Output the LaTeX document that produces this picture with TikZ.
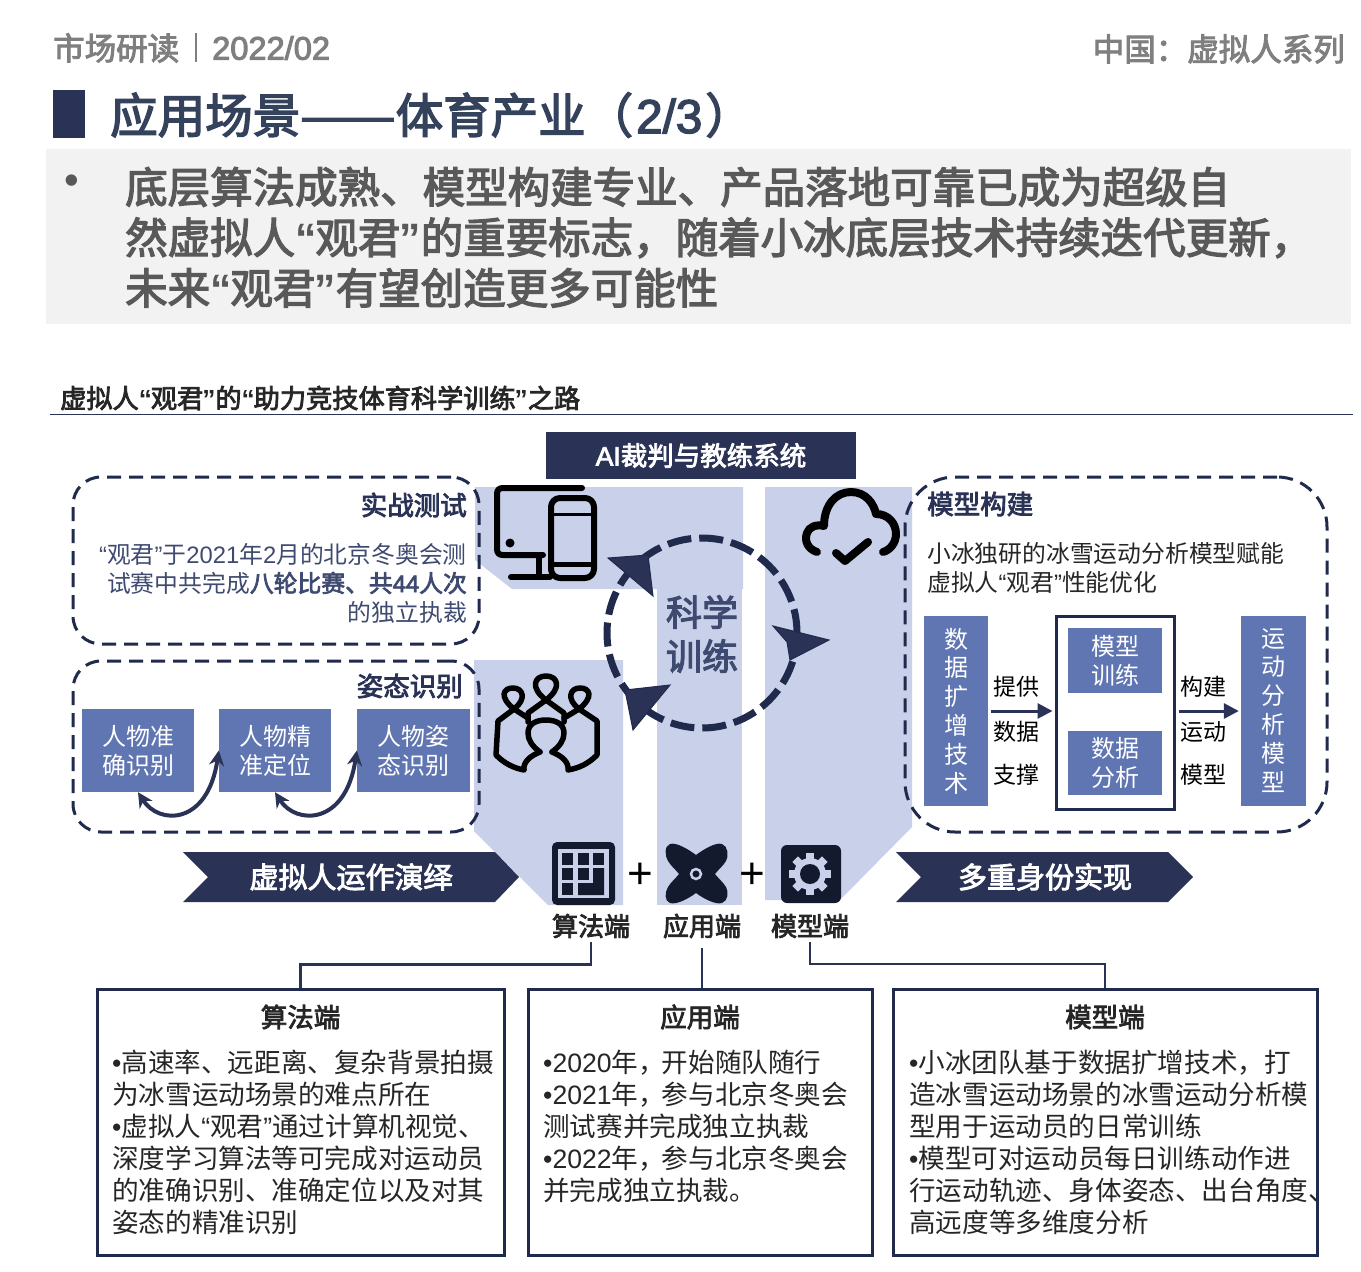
\documentclass[tikz,border=0pt]{standalone}
\usepackage{fontspec}
\setmainfont{Noto Sans CJK SC}
\newfontfamily\cjkb[FakeBold=3]{Noto Sans CJK SC}
\newfontfamily\latf{Liberation Sans}
\newfontfamily\latm[FakeBold=3]{Liberation Sans}
\usetikzlibrary{arrows.meta}
\newcommand{\fs}[2]{\fontsize{#1}{#2}\selectfont}
\newcommand{\q}[1]{{\latf “}#1{\latf ”}}
\newcommand{\qb}[1]{{\latf\bfseries “}\kern-1pt #1\kern-1pt{\latf\bfseries ”}}
\newcommand{\bu}{{\latf •}}
\definecolor{navy}{HTML}{2A3356}
\definecolor{ink}{HTML}{1F2A4D}
\definecolor{pale}{HTML}{C8D1E9}
\definecolor{midblue}{HTML}{6076B2}
\definecolor{coal}{HTML}{141A2E}
\definecolor{slate}{HTML}{3F4A70}
\definecolor{ash}{HTML}{7F7F7F}
\definecolor{titleblue}{HTML}{34425C}
\tikzset{
  dashbox/.style={draw=ink,line width=3pt,rounded corners=#1,dash pattern=on 14pt off 8pt},
  panel/.style={draw=ink,line width=3pt,minimum width=#1,minimum height=266,inner sep=0pt},
  bluebox/.style={fill=midblue,text=white,inner sep=0pt,align=center,font=\fs{24}{29}},
  side/.style={inner sep=0pt,font=\fs{23}{28}},
  head/.style={inner sep=0pt,text=navy,font=\fs{26.5}{30}\cjkb},
  body/.style={inner sep=0pt,align=left,anchor=north west,text=black!85,font=\fs{26.6}{32}},
  note/.style={inner sep=0pt,text=slate,font=\fs{23.8}{29}},
  leadline/.style={anchor=base west,inner sep=0pt,text=black!65,font=\fs{42.5}{50}\cjkb},
  chevron/.style={fill=navy},
  twohead/.style={draw=navy,line width=4pt,{Stealth[length=15pt,width=15pt]}-{Stealth[length=15pt,width=15pt]}},
  flow/.style={draw=navy,line width=3pt,-{Triangle[length=15pt,width=15pt]},shorten <=3pt,shorten >=2pt},
  elbow/.style={draw=navy,line width=2.5pt},
  ico/.style={line width=6pt,black,line cap=round,line join=round},
  tip/.style={fill=navy,draw=ink,line width=1pt}
}

\begin{document}
\begin{tikzpicture}[x=1pt,y=-1pt]
    \useasboundingbox (0,0) rectangle (1361,1272);

    % header
    \node [anchor=west,inner sep=0pt,text=ash,font=\fs{31.5}{36}\cjkb] (topleft) at (53,48) {市场研读};
    \node [anchor=west,inner sep=0pt,text=ash,font=\fs{32.6}{36}\latm] (topdate) at (212,48) {2022/02};
    \draw [ash,line width=2.5pt] (196,33) -- (196,62);
    \node [anchor=east,inner sep=0pt,text=ash,font=\fs{31.5}{36}\cjkb] (topright) at (1345,49) {中国：虚拟人系列};
    \fill [navy] (53,90) rectangle (85,138);
    \node [anchor=west,inner sep=0pt,text=titleblue,font=\fs{47.5}{52}\cjkb] (title) at (110,115) {应用场景\scalebox{1.2}[1]{——}体育产业（\kern3pt{\latm 2/3}\kern3pt）};

    \fill [black!5] (46,149) rectangle (1351,324);
    \node [inner sep=0pt,text=black!65,font=\fs{42}{46}\latf] (dot) at (72,185) {•};
    \node [leadline] (lead1) at (125,203) {底层算法成熟、模型构建专业、产品落地可靠已成为超级自};
    \node [leadline] (lead2) at (125,253.5) {然虚拟人\qb{观君}的重要标志，随着小冰底层技术持续迭代更新，};
    \node [leadline] (lead3) at (125,304) {未来\qb{观君}有望创造更多可能性};

    \node [anchor=west,inner sep=0pt,text=black!85,font=\fs{26.2}{30}\cjkb] (subtitle) at (60,398) {虚拟人\qb{观君}的\qb{助力竞技体育科学训练}之路};
    \draw [navy,line width=1pt] (50,414) -- (1353,414);

    % pale columns
    \fill [pale] (475,487) -- (743,487) -- (743,589) -- (512,589) -- (475,560) -- cycle;
    \fill [pale] (657,589) rectangle (742,905);
    \fill [pale] (474,660) -- (623,660) -- (623,905) -- (548,905) -- (474,831) -- cycle;
    \fill [pale] (765,487) -- (912,487) -- (912,827) -- (840,900) -- (765,900) -- cycle;

    \node [fill=navy,text=white,minimum width=310,minimum height=47,inner sep=0pt,font=\fs{26.5}{30}\cjkb] (aibox) at (701,455.5) {\raisebox{-1.5pt}{{\latm AI}裁判与教练系统}};

    % dashed boxes
    \node [dashbox=28pt,minimum width=406,minimum height=167,inner sep=0pt] (fight) at (276,560.5) {};
    \node [dashbox=28pt,minimum width=406,minimum height=171,inner sep=0pt] (pose) at (276,746.5) {};
    \node [dashbox=50pt,minimum width=422,minimum height=355,inner sep=0pt] (model) at (1116,654.5) {};

    \node [head,anchor=east] (fighthead) at (467,505) {实战测试};
    \node [note,anchor=east] (fight1) at (467,554) {\q{观君}于{\latf 2021}年{\latf 2}月的北京冬奥会测};
    \node [note,anchor=east] (fight2) at (467,583) {试赛中共完成{\cjkb 八轮比赛、共{\latm 44}人次}};
    \node [note,anchor=east] (fight3) at (467,612) {的独立执裁};

    \node [head,anchor=east] (posehead) at (463,686) {姿态识别};
    \node [bluebox,minimum width=112,minimum height=83] (persA) at (138,750.5) {人物准\\确识别};
    \node [bluebox,minimum width=112,minimum height=83] (persB) at (275,750.5) {人物精\\准定位};
    \node [bluebox,minimum width=113,minimum height=83] (persC) at (413.5,750.5) {人物姿\\态识别};
    \draw [twohead] (persA.south) .. controls +(21,33) and +(-11,75) .. (persB.west);
    \draw [twohead] (persB.south) .. controls +(21,33) and +(-11,75) .. (persC.west);

    \node [head,anchor=west] (modelhead) at (927,504) {模型构建};
    \node [note,anchor=west,text=black!85] (model1) at (927,553) {小冰独研的冰雪运动分析模型赋能};
    \node [note,anchor=west,text=black!85] (model2) at (927,582) {虚拟人\q{观君}性能优化};

    \node [bluebox,minimum width=64,minimum height=190] (dataCol) at (956,711) {\raisebox{-1pt}{数}\\据\\扩\\增\\技\\术};
    \node [bluebox,minimum width=65,minimum height=190] (motionCol) at (1273.5,711) {\raisebox{-1pt}{运}\\动\\分\\析\\模\\型};
    \node [draw=ink,fill=white,line width=3pt,minimum width=118,minimum height=193,inner sep=0pt] (frame) at (1115,712.5) {};
    \node [bluebox,minimum width=94,minimum height=65] (trainBox) at (1115,660.5) {模型\\训练};
    \node [bluebox,minimum width=94,minimum height=64] (dataBox) at (1115,763) {数据\\分析};
    \draw [flow] (dataCol.east) -- (frame.west |- dataCol.east);
    \draw [flow] (frame.east |- motionCol.west) -- (motionCol.west);
    \node [side] (give1) at (1016,687) {提供};
    \node [side] (give2) at (1016,732) {数据};
    \node [side] (give3) at (1016,775) {支撑};
    \node [side] (make1) at (1203,687) {构建};
    \node [side] (make2) at (1203,732) {运动};
    \node [side] (make3) at (1203,775) {模型};

    % ring
    \node [circle,draw=ink,line width=7pt,minimum size=190,inner sep=0pt,dash pattern=on 24pt off 8pt] (ring) at (702,633) {};
    \node [inner sep=0pt,text=slate,align=center,font=\fs{36}{44}\cjkb] (science) at (702,634) {科学\\训练};
    \fill [tip] (608,558) -- (648,555) -- (653,596) -- cycle;
    \fill [tip] (773,626) -- (829,640) -- (790,660) -- (787,642) -- cycle;
    \fill [tip] (670,685) -- (625,690) -- (633,730) -- cycle;

    % devices
    \draw [ico] (582,488) -- (503,488) .. controls (499,488) and (497,490) .. (497,494) -- (497,549) .. controls (497,553) and (499,555) .. (503,555) -- (543,555);
    \draw [ico] (539,555) -- (539,577);
    \draw [ico] (511,577) -- (550,577);
    \fill [black] (510,543) circle (4.5);
    \draw [ico,rounded corners=9pt] (551,498) rectangle (594,578);
    \draw [line width=3pt,black] (551,514) -- (594,514);
    \draw [line width=5pt,black] (551,564) -- (594,564);

    % cloud
    \draw [ico,line width=8pt] (817,552) .. controls (808,549) and (804,541) .. (807,533) .. controls (809,527) and (816,524) .. (824,526) .. controls (824,505) and (836,492) .. (851,492) .. controls (866,492) and (874,504) .. (876,514) .. controls (888,514) and (896,523) .. (896,534) .. controls (896,543) and (890,550) .. (883,552);
    \draw [ico,line width=8pt] (836,553) -- (845,561) -- (868,542);

    % people
    \begin{scope}[ico,line width=5.5pt]
        \draw (546,700) .. controls (530,688) and (534,676) .. (546,676) .. controls (558,676) and (562,688) .. (546,700) -- (528,713) -- (528,722);
        \draw (546,700) -- (564,713) -- (564,722);
        \draw (514,709) .. controls (499,697) and (503,688) .. (513,688) .. controls (523,688) and (527,699) .. (514,709) -- (498,721) -- (496,755) .. controls (505,764) and (514,768) .. (524,770) .. controls (523,762) and (530,756) .. (540,752);
        \draw (514,709) -- (528,718);
        \draw (579,709) .. controls (594,697) and (590,688) .. (580,688) .. controls (570,688) and (566,699) .. (579,709) -- (597,721) -- (597,755) .. controls (588,764) and (579,768) .. (568,770) .. controls (569,762) and (562,756) .. (552,752);
        \draw (579,709) -- (564,718);
        \draw (540,752) .. controls (532,746) and (528,740) .. (528,733) .. controls (528,724) and (536,720) .. (546,720) .. controls (556,720) and (564,724) .. (564,733) .. controls (564,740) and (560,746) .. (552,752);
    \end{scope}

    % platform icons
    \fill [coal,rounded corners=5pt] (552,842) rectangle (615,905);
    \fill [pale] (558,849) rectangle (609,898);
    \foreach \cx/\cy in {562/853,578/853,593/853,562/868,578/868,562/883}
        \fill [coal] (\cx,\cy) rectangle ++(11,12);
    \fill [coal] (593,868) -- (604,868) -- (604,895) -- (578,895) -- (578,883) -- (593,883) -- cycle;

    \fill [coal] (696,855) .. controls (688,849) and (676,842) .. (670,844) .. controls (664,846) and (665,856) .. (668,861) .. controls (671,866) and (676,870) .. (679,874) .. controls (676,878) and (671,882) .. (668,887) .. controls (665,892) and (664,901) .. (670,903) .. controls (676,905) and (688,899) .. (696,893) .. controls (704,899) and (716,905) .. (722,903) .. controls (728,901) and (729,892) .. (726,887) .. controls (723,882) and (718,878) .. (715,874) .. controls (718,870) and (723,866) .. (726,861) .. controls (729,856) and (728,846) .. (722,844) .. controls (716,842) and (704,849) .. (696,855) -- cycle;
    \draw [pale,fill=coal,line width=2.5pt] (696,874) circle (5);

    \fill [coal,rounded corners=6pt] (781,845) rectangle (841,903);
    \foreach \ang in {0,45,...,315}
        \fill [pale,rotate around={\ang:(810,874)}] (806,853) rectangle (814,860);
    \fill [pale] (810,874) circle (16);
    \fill [coal] (810,874) circle (10);

    \node [inner sep=0pt,font=\fs{44}{46}\latf] (plusA) at (640,876) {+};
    \node [inner sep=0pt,font=\fs{44}{46}\latf] (plusB) at (752,876) {+};

    % chevrons
    \fill [chevron] (183,852) -- (495,852) -- (519,877) -- (495,902) -- (183,902) -- (208,877) -- cycle;
    \fill [chevron] (896,852) -- (1168,852) -- (1193,877) -- (1168,902) -- (896,902) -- (921,877) -- cycle;
    \node [inner sep=0pt,text=white,font=\fs{29}{32}\cjkb] (actText) at (351,877) {虚拟人运作演绎};
    \node [inner sep=0pt,text=white,font=\fs{29}{32}\cjkb] (roleText) at (1045,877) {多重身份实现};

    % bottom panels
    \node [inner sep=4pt,text=black!85,font=\fs{26}{30}\cjkb] (lblAlgo) at (591,926) {算法端};
    \node [inner sep=4pt,text=black!85,font=\fs{26}{30}\cjkb] (lblApp) at (702,926) {应用端};
    \node [inner sep=4pt,text=black!85,font=\fs{26}{30}\cjkb] (lblModel) at (810,926) {模型端};

    \node [panel=407] (boxAlgo) at (300.5,1122.5) {};
    \node [panel=344] (boxApp) at (700,1122.5) {};
    \node [panel=424] (boxModel) at (1105,1122.5) {};

    \draw [elbow] (lblAlgo.south) -- ++(0,22) -| (boxAlgo.north);
    \draw [elbow,shorten <=6pt] (lblApp.south) -- (lblApp.south |- boxApp.north);
    \draw [elbow] (lblModel.south) -- ++(0,22) -| (boxModel.north);

    \node [head,text=black!85,font=\fs{26.5}{30}\cjkb] (algoHead) at (300.5,1017) {算法端};
    \node [head,text=black!85,font=\fs{26.5}{30}\cjkb] (appHead) at (700,1017) {应用端};
    \node [head,text=black!85,font=\fs{26.5}{30}\cjkb] (modelHead) at (1105,1017) {模型端};

    \node [body] (algoBody) at (112,1050) {\bu 高速率、远距离、复杂背景拍摄\\为冰雪运动场景的难点所在\\\bu 虚拟人\q{观君}通过计算机视觉、\\深度学习算法等可完成对运动员\\的准确识别、准确定位以及对其\\姿态的精准识别};
    \node [body] (appBody) at (543,1050) {\bu{\latf 2020}年，\kern-3pt 开始随队随行\\\bu{\latf 2021}年，\kern-3pt 参与北京冬奥会\\测试赛并完成独立执裁\\\bu{\latf 2022}年，\kern-3pt 参与北京冬奥会\\并完成独立执裁。};
    \node [body] (modelBody) at (909,1050) {\bu 小冰团队基于数据扩增技术，打\\造冰雪运动场景的冰雪运动分析模\\型用于运动员的日常训练\\\bu 模型可对运动员每日训练动作进\\行运动轨迹、身体姿态、出台角度、\\高远度等多维度分析};
\end{tikzpicture}
\end{document}
